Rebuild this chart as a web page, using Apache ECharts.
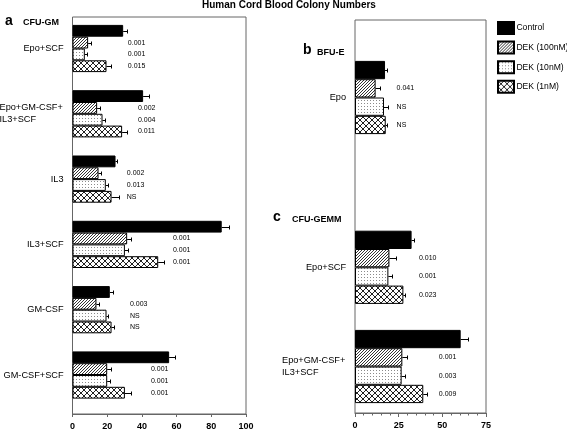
<!DOCTYPE html>
<html>
<head>
<meta charset="utf-8">
<script src="https://cdn.jsdelivr.net/npm/echarts@6/dist/echarts.min.js"></script>
<style>
  html, body { margin: 0; padding: 0; background: #fff; }
  #chart { width: 567px; height: 431px; }
</style>
</head>
<body>
<div id="chart"></div>
<script>
// ---------------- DATA ----------------
const seriesNames = ['Control', 'DEK (100nM)', 'DEK (10nM)', 'DEK (1nM)'];

// Panel a: CFU-GM
const catsA = ['Epo+SCF', 'Epo+GM-CSF+\nIL3+SCF', 'IL3', 'IL3+SCF', 'GM-CSF', 'GM-CSF+SCF'];
const ctrlA   = [29.2, 40.7, 24.8, 86.0, 21.5, 55.7];
const dek100A = [9.0, 14.2, 15.0, 31.5, 13.8, 20.0];
const dek10A  = [7.1, 17.3, 19.2, 30.2, 19.6, 20.0];
const dek1A   = [19.6, 28.6, 22.5, 49.4, 22.5, 30.2];
const errCtrlA   = [2.5, 3.3, 0.9, 4.4, 1.9, 3.3];
const errDek100A = [1.4, 1.6, 1.2, 2.0, 1.5, 2.1];
const errDek10A  = [1.3, 1.3, 1.3, 1.9, 0.9, 1.5];
const errDek1A   = [2.5, 2.6, 4.4, 3.3, 1.3, 3.3];
const p100A = ['0.001', '0.002', '0.002', '0.001', '0.003', '0.001'];
const p10A  = ['0.001', '0.004', '0.013', '0.001', 'NS', '0.001'];
const p1A   = ['0.015', '0.011', 'NS', '0.001', 'NS', '0.001'];
const pLabelAtA = [31.9, 37.7, 31.3, 57.9, 33.1, 45.2]; // annotation anchor (axis units)
const ticksA = { min: 0, max: 100, interval: 20 };

// Panel b: BFU-E
const catsB = ['Epo'];
const ctrlB = [17.2], dek100B = [11.8], dek10B = [16.6], dek1B = [17.6];
const errCtrlB = [0.9], errDek100B = [2.5], errDek10B = [2.5], errDek1B = [0.5];
const p100B = ['0.041'], p10B = ['NS'], p1B = ['NS'];
const pLabelAtB = [23.8];

// Panel c: CFU-GEMM
const catsC = ['Epo+SCF', 'Epo+GM-CSF+\nIL3+SCF'];
const ctrlC   = [32.4, 60.5];
const dek100C = [19.7, 27.1];
const dek10C  = [19.1, 26.7];
const dek1C   = [27.7, 39.1];
const errCtrlC   = [1.4, 4.4];
const errDek100C = [3.8, 2.9];
const errDek10C  = [1.9, 1.9];
const errDek1C   = [0.9, 1.9];
const p100C = ['0.010', '0.001'], p10C = ['0.001', '0.003'], p1C = ['0.023', '0.009'];
const pLabelAtC = [36.6, 48.0];
const ticksBC = { min: 0, max: 75, interval: 25 };

// ---------------- STYLE ----------------
const FONT = 'Liberation Sans, Arial, Helvetica, sans-serif';
const CAT_FONT = 9.2;

function makePattern(size, draw) {
  const c = document.createElement('canvas');
  c.width = size; c.height = size;
  const ctx = c.getContext('2d');
  ctx.fillStyle = '#fff';
  ctx.fillRect(0, 0, size, size);
  draw(ctx, size);
  return { image: c, repeat: 'repeat' };
}
const patHatch = makePattern(3, (ctx, s) => {
  ctx.strokeStyle = '#333'; ctx.lineWidth = 1;
  ctx.beginPath();
  ctx.moveTo(0, s); ctx.lineTo(s, 0);
  ctx.moveTo(-1, 1); ctx.lineTo(1, -1);
  ctx.moveTo(s - 1, s + 1); ctx.lineTo(s + 1, s - 1);
  ctx.stroke();
});
const patDots = makePattern(3, (ctx) => {
  ctx.fillStyle = '#8a8a8a';
  ctx.fillRect(1, 1, 1, 1);
});
const patCross = makePattern(6, (ctx, s) => {
  ctx.strokeStyle = '#222'; ctx.lineWidth = 1;
  ctx.beginPath();
  ctx.moveTo(0, s); ctx.lineTo(s, 0);
  ctx.moveTo(-1, 1); ctx.lineTo(1, -1);
  ctx.moveTo(s - 1, s + 1); ctx.lineTo(s + 1, s - 1);
  ctx.moveTo(0, 0); ctx.lineTo(s, s);
  ctx.moveTo(-1, s - 1); ctx.lineTo(1, s + 1);
  ctx.moveTo(s - 1, -1); ctx.lineTo(s + 1, 1);
  ctx.stroke();
});
const fills = ['#000', patHatch, patDots, patCross];

// measure for left-aligned multi-line category labels
const mctx = document.createElement('canvas').getContext('2d');
mctx.font = CAT_FONT + 'px ' + FONT;
function catLabel(v) {
  if (v.indexOf('\n') < 0) return v;
  return v.split('\n').map(l => '{l|' + l + '}').join('\n');
}
function richFor(cats) {
  let w = 0;
  cats.forEach(c => c.split('\n').forEach(l => { w = Math.max(w, mctx.measureText(l).width); }));
  return { l: { align: 'left', width: Math.ceil(w), fontSize: CAT_FONT, lineHeight: 12, color: '#000', fontFamily: FONT } };
}

// ---------------- BUILD ----------------
const series = [];
function buildPanel(axisIdx, cats, vals, errs, pvals, pAt, barW) {
  vals.forEach((arr, k) => {
    series.push({
      type: 'bar', name: seriesNames[k], xAxisIndex: axisIdx, yAxisIndex: axisIdx,
      data: arr, barWidth: barW, barGap: '0%',
      itemStyle: { color: fills[k], borderColor: '#000', borderWidth: 1 },
      z: 2
    });
    const off = (k - 1.5) * barW;
    const e = errs[k];
    series.push({
      type: 'custom', name: 'err' + k, xAxisIndex: axisIdx, yAxisIndex: axisIdx, silent: true, z: 3,
      data: arr.map((v, i) => [v, i, e[i]]),
      encode: { x: 0, y: 1 },
      renderItem: (params, api) => {
        const v = api.value(0), c = api.value(1), d = api.value(2);
        const p0 = api.coord([v, c]);
        const p1 = api.coord([v + d, c]);
        const y = Math.round(p0[1] + off) + 0.5;
        const x2 = Math.round(p1[0]) + 0.5;
        return { type: 'group', children: [
          { type: 'line', shape: { x1: p0[0], y1: y, x2: x2, y2: y }, style: { stroke: '#000', lineWidth: 1 } },
          { type: 'line', shape: { x1: x2, y1: y - 2, x2: x2, y2: y + 2 }, style: { stroke: '#000', lineWidth: 1 } }
        ] };
      }
    });
    if (k > 0) {
      const texts = pvals[k - 1];
      series.push({
        type: 'custom', name: 'p' + k, xAxisIndex: axisIdx, yAxisIndex: axisIdx, silent: true, z: 4,
        data: pAt.map((v, i) => [v, i]),
        encode: { x: 0, y: 1 },
        renderItem: (params, api) => {
          const p = api.coord([api.value(0), api.value(1)]);
          return { type: 'text', x: p[0], y: p[1] + off,
            style: { text: texts[params.dataIndex], fill: '#000', fontSize: 7, fontFamily: FONT,
                     align: 'left', verticalAlign: 'middle' } };
        }
      });
    }
  });
}

buildPanel(1, catsA, [ctrlA, dek100A, dek10A, dek1A], [errCtrlA, errDek100A, errDek10A, errDek1A],
           [p100A, p10A, p1A], pLabelAtA, 11.8);
buildPanel(3, catsB, [ctrlB, dek100B, dek10B, dek1B], [errCtrlB, errDek100B, errDek10B, errDek1B],
           [p100B, p10B, p1B], pLabelAtB, 18.3);
buildPanel(4, catsC, [ctrlC, dek100C, dek10C, dek1C], [errCtrlC, errDek100C, errDek10C, errDek1C],
           [p100C, p10C, p1C], pLabelAtC, 18.3);

const baseGrid = { containLabel: false, outerBoundsMode: 'none' };
const frameGrid = { show: true, borderColor: '#666', borderWidth: 1, backgroundColor: 'transparent' };
const grids = [
  Object.assign({ left: 72.5, top: 17, width: 173.5, height: 397 }, baseGrid, frameGrid),
  Object.assign({ left: 72.5, top: 15.85, width: 173.5, height: 391.8 }, baseGrid),
  Object.assign({ left: 355, top: 20, width: 131, height: 393 }, baseGrid, frameGrid),
  Object.assign({ left: 355, top: 47.9, width: 131, height: 99.2 }, baseGrid),
  Object.assign({ left: 355, top: 217.7, width: 131, height: 198.4 }, baseGrid)
];

function frameX(grid, t, minor) {
  return {
    type: 'value', gridIndex: grid, min: t.min, max: t.max, interval: t.interval,
    axisLine: { show: true, lineStyle: { color: '#666', width: 1 } },
    axisTick: { show: true, length: minor ? 4 : 3, lineStyle: { color: '#666' } },
    minorTick: { show: !!minor, splitNumber: 5, length: 2.5, lineStyle: { color: '#666' } },
    splitLine: { show: false },
    axisLabel: { color: '#000', fontSize: 9, fontWeight: 'bold', fontFamily: FONT, margin: 8 }
  };
}
function hiddenX(grid, t) {
  return { type: 'value', gridIndex: grid, min: t.min, max: t.max, show: false, splitLine: { show: false } };
}
function catY(grid, cats) {
  return {
    type: 'category', gridIndex: grid, data: cats, inverse: true,
    axisLine: { show: false }, axisTick: { show: false }, splitLine: { show: false },
    axisLabel: { color: '#000', fontSize: CAT_FONT, fontFamily: FONT, margin: 9,
                 formatter: catLabel, rich: richFor(cats) }
  };
}

const titleStyle = (size) => ({ color: '#000', fontSize: size, fontWeight: 'bold', fontFamily: FONT });

const option = {
  animation: false,
  backgroundColor: '#fff',
  textStyle: { fontFamily: FONT },
  title: [
    { text: 'Human Cord Blood Colony Numbers', left: 202, top: 0, padding: 0, textStyle: titleStyle(10) },
    { text: 'a', left: 5, top: 14, padding: 0, textStyle: titleStyle(14) },
    { text: 'CFU-GM', left: 23, top: 18, padding: 0, textStyle: titleStyle(9) },
    { text: 'b', left: 303, top: 43, padding: 0, textStyle: titleStyle(14) },
    { text: 'BFU-E', left: 317, top: 48, padding: 0, textStyle: titleStyle(9) },
    { text: 'c', left: 273, top: 210, padding: 0, textStyle: titleStyle(14) },
    { text: 'CFU-GEMM', left: 292, top: 215, padding: 0, textStyle: titleStyle(9) }
  ],
  legend: {
    data: seriesNames, orient: 'vertical', left: 497, top: 21, padding: 0,
    itemWidth: 16, itemHeight: 12, itemGap: 5.6, icon: 'rect', selectedMode: false,
    textStyle: { color: '#000', fontSize: 8.6, fontFamily: FONT, padding: [0, 0, 0, -2.6] }
  },
  grid: grids,
  xAxis: [frameX(0, ticksA, false), hiddenX(1, ticksA), frameX(2, ticksBC, true), hiddenX(3, ticksBC), hiddenX(4, ticksBC)],
  yAxis: [
    { type: 'value', gridIndex: 0, show: false, splitLine: { show: false } },
    catY(1, catsA),
    { type: 'value', gridIndex: 2, show: false, splitLine: { show: false } },
    catY(3, catsB),
    catY(4, catsC)
  ],
  series: series
};

const chart = echarts.init(document.getElementById('chart'), null, { renderer: 'canvas' });
chart.setOption(option);
</script>
</body>
</html>
